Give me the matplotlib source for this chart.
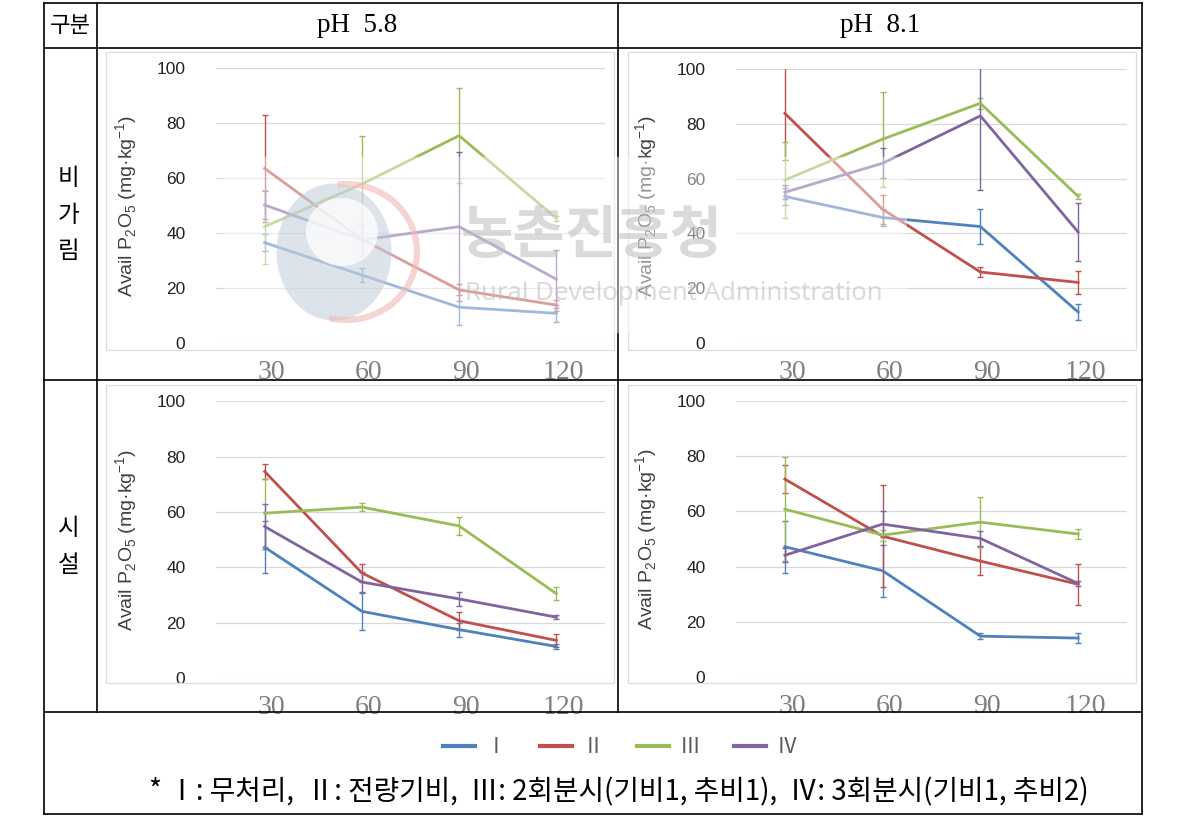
import matplotlib
matplotlib.use("Agg")
import matplotlib.pyplot as plt
from matplotlib.lines import Line2D
from matplotlib.patches import Rectangle, Ellipse, Arc, FancyBboxPatch
from matplotlib.transforms import ScaledTranslation

plt.rcParams['font.family'] = ['Liberation Sans', 'Noto Sans CJK KR', 'DejaVu Sans']
plt.rcParams['mathtext.fontset'] = 'custom'
plt.rcParams['mathtext.rm'] = 'Liberation Sans'

# ---------------- data ----------------
days = ['30', '60', '90', '120']
treatments = ['Ⅰ', 'Ⅱ', 'Ⅲ', 'Ⅳ']
colors = ['#4F81BD', '#C0504D', '#9BBB59', '#8064A2']

rain_58_mean = [[36.5, 24.7, 13.0, 10.8],
                [63.5, 37.7, 19.3, 13.8],
                [42.3, 57.8, 75.4, 45.3],
                [50.2, 37.5, 42.3, 23.2]]
rain_58_err = [[3.0, 2.5, 6.5, 3.0],
               [19.5, 5.0, 2.0, 2.0],
               [13.5, 17.6, 17.2, 1.0],
               [5.0, 5.8, 27.0, 10.5]]

rain_81_mean = [[53.5, 45.8, 42.5, 11.3],
                [83.8, 48.8, 25.9, 22.1],
                [59.5, 74.4, 87.5, 53.5],
                [55.0, 65.6, 82.9, 40.5]]
rain_81_err = [[3.0, 3.0, 6.5, 3.0],
               [17.0, 5.2, 1.8, 4.2],
               [13.7, 17.3, 2.0, 1.0],
               [2.5, 5.5, 27.0, 10.6]]

house_58_mean = [[47.3, 24.1, 17.5, 11.4],
                 [74.7, 38.0, 20.7, 13.6],
                 [59.6, 61.8, 55.0, 30.5],
                 [54.8, 34.7, 28.6, 22.0]]
house_58_err = [[9.4, 6.6, 2.5, 1.0],
                [2.7, 3.2, 3.3, 2.3],
                [12.4, 1.5, 3.4, 2.4],
                [8.2, 3.5, 2.5, 0.7]]

house_81_mean = [[47.2, 38.5, 14.8, 14.1],
                 [71.7, 51.0, 42.0, 33.6],
                 [60.8, 51.4, 56.1, 51.8],
                 [44.1, 55.4, 50.2, 33.9]]
house_81_err = [[9.4, 9.5, 1.2, 1.8],
                [5.0, 18.4, 5.0, 7.4],
                [18.8, 2.0, 9.0, 1.9],
                [2.5, 4.8, 2.8, 1.0]]

col_titles = ['pH  5.8', 'pH  8.1']
row_titles = ['비\n가\n림', '시\n설']
header_corner = '구분'
yticks = [0, 20, 40, 60, 80, 100]
footnote = '* Ⅰ: 무처리,  Ⅱ: 전량기비,  Ⅲ: 2회분시(기비1, 추비1),  Ⅳ: 3회분시(기비1, 추비2)'

# ---------------- figure ----------------
W, H = 1189, 823
fig = plt.figure(figsize=(W / 100, H / 100), dpi=100)
fig.patch.set_facecolor('white')


def fx(x):
    return x / W


def fy(y):
    return 1 - y / H


def add_ax(x0, x1, y0, y1):
    return fig.add_axes([fx(x0), fy(y1), (x1 - x0) / W, (y1 - y0) / H])


# table lines
lw_t = 1.2
for (xa, xb, ya, yb) in [(44, 1142, 3, 3), (44, 1142, 47.5, 47.5), (44, 1142, 380, 380),
                         (44, 1142, 712, 712), (44, 1142, 814, 814),
                         (44, 44, 3, 814), (1142, 1142, 3, 814),
                         (96.5, 96.5, 3, 712), (618, 618, 3, 712)]:
    fig.add_artist(Line2D([fx(xa), fx(xb)], [fy(ya), fy(yb)], color='black', lw=lw_t,
                          transform=fig.transFigure))

# header texts
fig.text(fx(70), fy(25), header_corner, ha='center', va='center', fontsize=16,
         family=['Noto Sans CJK KR'])
for cx, t in zip([357, 880], col_titles):
    fig.text(fx(cx), fy(25), t, ha='center', va='center', fontsize=19.5,
             family=['Liberation Serif'])
for cy, t in zip([215, 547], row_titles):
    fig.text(fx(69), fy(cy), t, ha='center', va='center', fontsize=17,
             family=['Noto Sans CJK KR'], linespacing=1.75)

# chart area boxes
for (x0, x1, y0, y1) in [(106, 614, 52, 350), (628, 1136, 52, 350),
                         (106, 614, 385, 683), (628, 1136, 385, 683)]:
    fig.add_artist(Rectangle((fx(x0), fy(y1)), (x1 - x0) / W, (y1 - y0) / H,
                             transform=fig.transFigure, fill=False,
                             edgecolor='#DDDDDD', lw=0.9))

panels = [
    ((216, 605, 68, 343), rain_58_mean, rain_58_err),
    ((736, 1127, 69, 343), rain_81_mean, rain_81_err),
    ((216, 605, 401.5, 678), house_58_mean, house_58_err),
    ((736, 1127, 401, 677), house_81_mean, house_81_err),
]

ylabel = r'Avail P$_\mathregular{2}$O$_\mathregular{5}$ (mg·kg$^\mathregular{-1}$)'

for (box, means, errs) in panels:
    ax = add_ax(*box)
    xs = list(range(1, len(days) + 1))
    for m, e, c in zip(means, errs, colors):
        ax.errorbar(xs, m, yerr=e, color=c, lw=2.0, elinewidth=1.0,
                    capsize=2.5, capthick=1.0, zorder=3)
    ax.set_xlim(0.5, len(days) + 0.5)
    ax.set_ylim(0, 100)
    ax.set_yticks(yticks)
    ax.set_yticklabels([str(v) for v in yticks], fontsize=12.5, color='#222222')
    ax.set_xticks(xs)
    ax.set_xticklabels(days, fontsize=20, color='#7F7F7F', family=['Liberation Serif'])
    ax.tick_params(axis='both', length=0)
    ax.tick_params(axis='y', pad=22)
    ax.tick_params(axis='x', pad=12)
    for lbl in ax.get_xticklabels():
        lbl.set_transform(lbl.get_transform() + ScaledTranslation(7 / 100, 0, fig.dpi_scale_trans))
    ax.grid(axis='y', color='#D9D9D9', lw=0.9, zorder=0)
    ax.set_axisbelow(True)
    for s in ax.spines.values():
        s.set_visible(False)
    ax.set_ylabel(ylabel, fontsize=14, color='#404040')
    ax.yaxis.set_label_coords(-76 / (box[1] - box[0]), 0.5)
    ax.patch.set_alpha(0)

# watermark (faint overlay of the source document)
fig.add_artist(FancyBboxPatch((fx(235), fy(325)), (895 - 235) / W, (325 - 165) / H,
                              boxstyle='round,pad=0.01', transform=fig.transFigure,
                              facecolor='white', edgecolor='none', alpha=0.45, zorder=5))
fig.add_artist(Ellipse((fx(334), fy(252)), 115 / W, 137 / H, transform=fig.transFigure,
                       facecolor='#BCC8D6', edgecolor='none', alpha=0.5, zorder=6))
fig.add_artist(Ellipse((fx(342), fy(232)), 72 / W, 68 / H, transform=fig.transFigure,
                       facecolor='white', edgecolor='none', alpha=0.75, zorder=6))
fig.add_artist(Arc((fx(346), fy(252)), 142 / W, 136 / H, theta1=-100, theta2=95,
                   transform=fig.transFigure, color='#F0B8B8', lw=4.5, alpha=0.6, zorder=6))
fig.text(fx(592), fy(236), '농촌진흥청', ha='center', va='center', fontsize=41,
         weight='bold', color='#BDBDBD', alpha=0.55, family=['Noto Sans CJK KR'], zorder=7)
fig.text(fx(674), fy(293), 'Rural Development Administration', ha='center', va='center',
         fontsize=18.5, color='#BDBDBD', alpha=0.55, family=['Noto Sans'], zorder=7)

# legend
handles = [Line2D([], [], color=c, lw=3) for c in colors]
leg = fig.legend(handles, treatments, loc='center', bbox_to_anchor=(fx(620), fy(747)),
                 ncol=4, frameon=False, handlelength=1.55, columnspacing=1.6,
                 handletextpad=0.5, prop={'family': ['Noto Sans CJK KR'], 'size': 15})
for t in leg.get_texts():
    t.set_color('#595959')

# footnote
fig.text(fx(619), fy(792), footnote, ha='center', va='center', fontsize=20,
         family=['Noto Sans CJK KR', 'DejaVu Sans'])

fig.savefig('out.png', dpi=100, facecolor='white')
